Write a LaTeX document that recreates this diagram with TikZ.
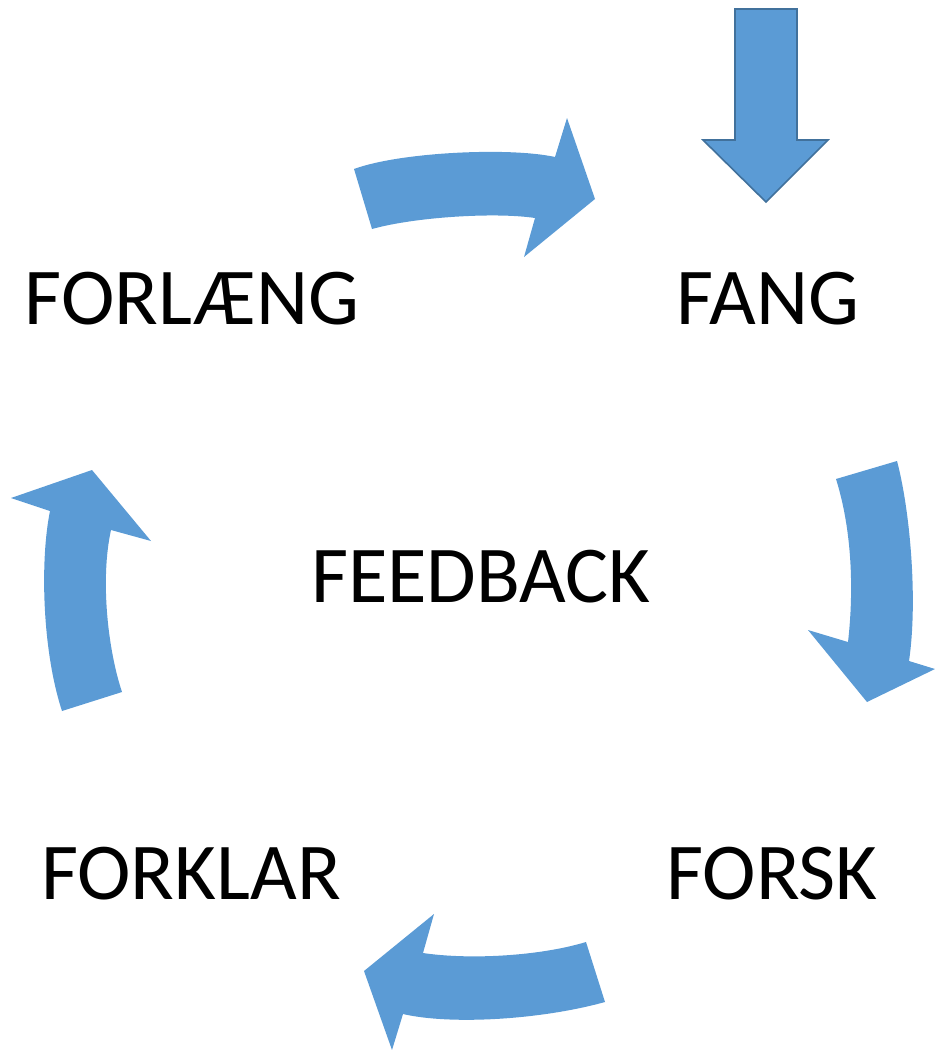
\documentclass[tikz,border=0pt]{standalone}
\usepackage{fontspec}
\setmainfont{Carlito}
\definecolor{arrowblue}{HTML}{5B9BD5}
\definecolor{arrowedge}{HTML}{41719C}
\begin{document}
\begin{tikzpicture}[x=0.75pt,y=-0.75pt,
  curvedarrow/.style={fill=arrowblue,draw=none},
  blockarrow/.style={fill=arrowblue,draw=arrowedge,line width=1.2pt,line join=miter},
  label/.style={font=\fontsize{60.5}{68}\selectfont,anchor=base,inner sep=0pt}]
\useasboundingbox (0,0) rectangle (935,1050);
% curved arrow top (FORLAENG -> FANG)
\fill[curvedarrow] (354,169) .. controls (400,152) and (510,147) .. (555,157)
  -- (567,118) -- (595,199) -- (524,257) -- (535,218)
  .. controls (495,212) and (415,217) .. (372,229) -- cycle;
% curved arrow right (FANG -> FORSK)
\fill[curvedarrow] (836,479) -- (897,461) .. controls (910,510) and (918,600) .. (909,661)
  -- (935,669) -- (867,702) -- (808,630) -- (848,642)
  .. controls (854,590) and (852,530) .. (836,479) -- cycle;
% curved arrow bottom (FORSK -> FORKLAR)
\fill[curvedarrow] (586,942) -- (605,1002) .. controls (540,1020) and (450,1025) .. (403,1014)
  -- (392,1050) -- (364,971) -- (434,914) -- (423,953)
  .. controls (470,960) and (540,956) .. (586,942) -- cycle;
% curved arrow left (FORKLAR -> FORLAENG)
\fill[curvedarrow] (62,711) -- (122,692) .. controls (108,650) and (100,580) .. (111,530)
  -- (151,541) -- (92,470) -- (11,498) -- (50,511)
  .. controls (40,560) and (42,650) .. (62,711) -- cycle;
% block arrow into FANG
\draw[blockarrow] (735,9) -- (797,9) -- (797,140) -- (828,140) -- (766,202)
  -- (703,140) -- (735,140) -- cycle;
% labels
\node[label] (forlaeng) at (192,324) {FORLÆNG};
\node[label] (fang) at (768,324) {FANG};
\node[label] (feedback) at (481,602) {FEEDBACK};
\node[label] (forklar) at (191,899) {FORKLAR};
\node[label] (forsk) at (772,899) {FORSK};
\end{tikzpicture}
\end{document}
